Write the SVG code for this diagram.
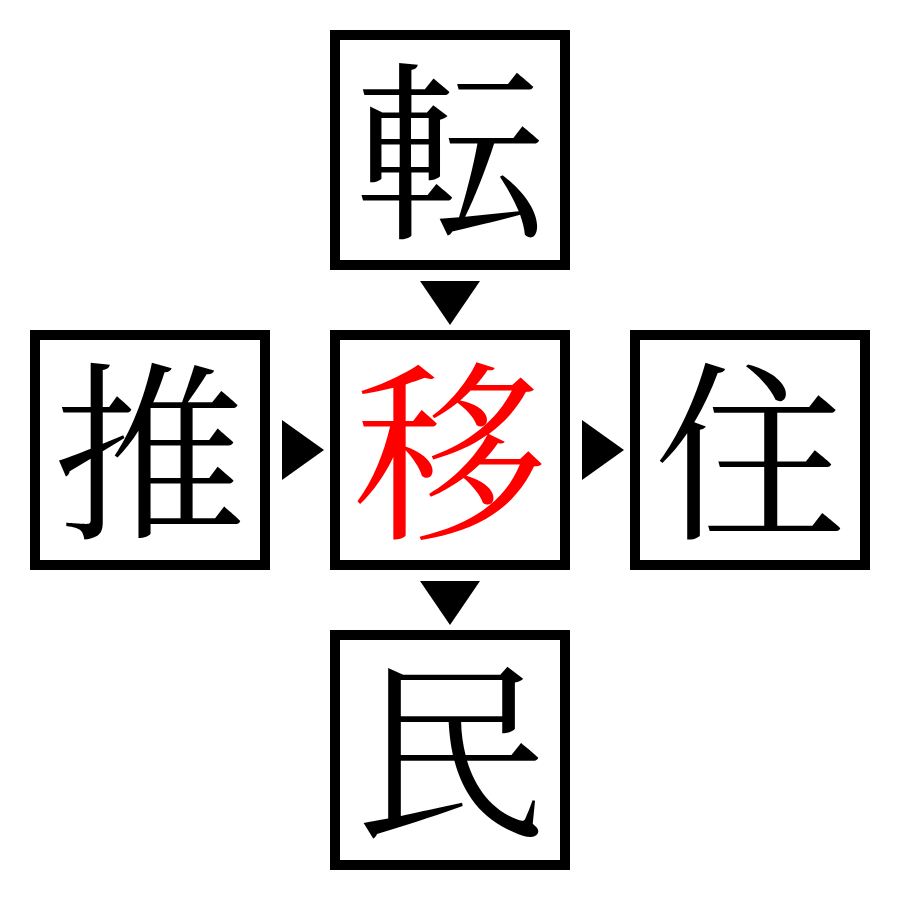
<svg xmlns="http://www.w3.org/2000/svg" width="900" height="900" viewBox="0 0 900 900">
<style>
.box{fill:#fff;stroke:#000;stroke-width:10}
.ch{font-family:"Noto Serif CJK JP","Noto Sans CJK JP",serif;font-size:192px;text-anchor:middle;fill:#000}
.red{fill:#ff0000}
.arr{fill:#000}
</style>
<rect width="900" height="900" fill="#fff"/>
<g id="connectors">
<polygon class="arr" points="420,281 480,281 450,325"/>
<polygon class="arr" points="282,420 282,480 324,450"/>
<polygon class="arr" points="582,420 582,480 624,450"/>
<polygon class="arr" points="420,581 480,581 450,625"/>
</g>
<g id="node-top"><rect class="box" x="335" y="35" width="230" height="230"/><text class="ch" x="450" y="224">転</text></g>
<g id="node-left"><rect class="box" x="35" y="335" width="230" height="230"/><text class="ch" x="150" y="524">推</text></g>
<g id="node-center"><rect class="box" x="335" y="335" width="230" height="230"/><text class="ch red" x="450" y="524">移</text></g>
<g id="node-right"><rect class="box" x="635" y="335" width="230" height="230"/><text class="ch" x="750" y="524">住</text></g>
<g id="node-bottom"><rect class="box" x="335" y="635" width="230" height="230"/><text class="ch" x="450" y="824">民</text></g>
</svg>
